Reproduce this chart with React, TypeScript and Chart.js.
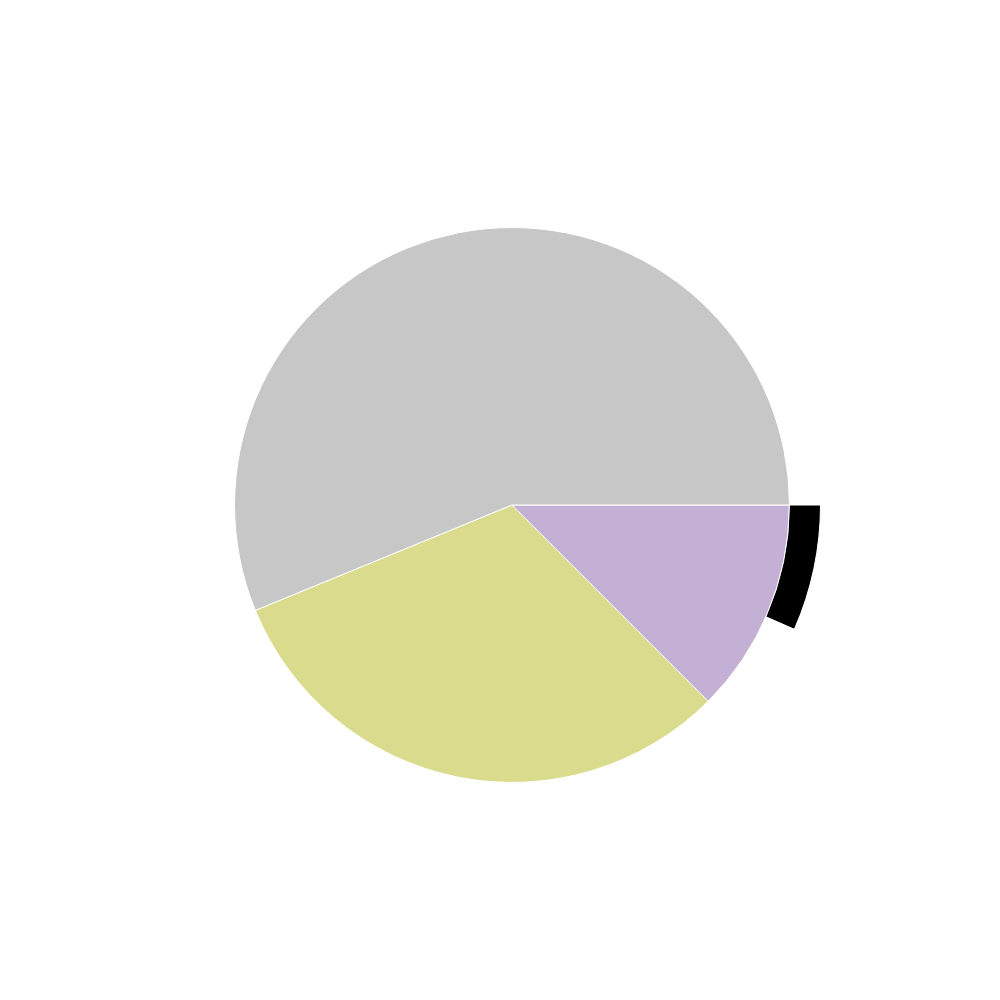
import React, { useEffect, useRef } from "react";
import { Chart, registerables } from "chart.js";

Chart.register(...registerables);

const categories = ["Purple", "Olive", "Gray"];
const innerValues = [12.5, 31.3, 56.2];
const innerColors = ["#c5b0d5", "#dbdb8d", "#c7c7c7"];

const outerLabels = ["Highlight", "Rest"];
const outerValues = [6.6, 93.4];
const outerColors = ["#000000", "rgba(0,0,0,0)"];

export default function App() {
  const ref = useRef<HTMLCanvasElement | null>(null);
  useEffect(() => {
    if (!ref.current) return;
    const chart = new Chart(ref.current, {
      type: "pie",
      data: {
        labels: categories,
        datasets: [
          {
            label: "outer",
            data: outerValues,
            backgroundColor: outerColors,
            borderColor: ["#ffffff", "rgba(0,0,0,0)"],
            borderWidth: [1, 0],
            weight: 31,
          } as any,
          {
            label: "inner",
            data: innerValues,
            backgroundColor: innerColors,
            borderColor: "#ffffff",
            borderWidth: 1,
            weight: 277,
          } as any,
        ],
      },
      options: {
        animation: false,
        responsive: false,
        rotation: 90,
        layout: { padding: { left: 203, right: 179, top: 196, bottom: 186 } },
        plugins: {
          legend: { display: false },
          tooltip: { enabled: false },
        },
      },
    });
    return () => chart.destroy();
  }, []);
  return (
    <div style={{ position: "absolute", left: 0, top: 0, width: 1000, height: 1000, background: "#fff" }}>
      <canvas ref={ref} width={1000} height={1000} style={{ width: 1000, height: 1000 }} />
    </div>
  );
}
